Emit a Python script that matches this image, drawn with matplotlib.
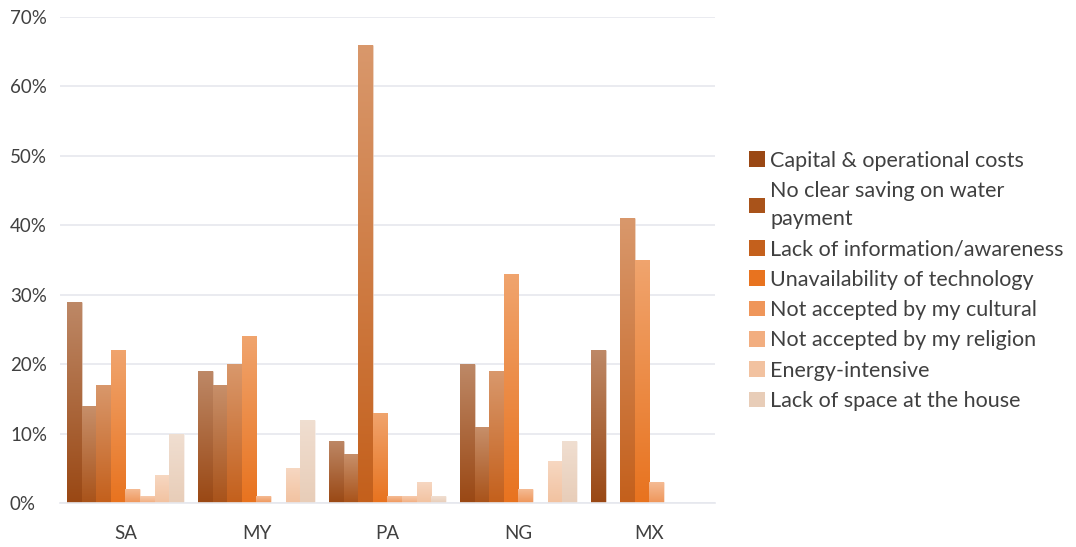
import matplotlib

matplotlib.use("Agg")
import matplotlib.pyplot as plt  # noqa: E402
import numpy as np  # noqa: E402
from matplotlib.colors import to_rgb  # noqa: E402
from matplotlib.patches import Patch  # noqa: E402
from matplotlib.ticker import PercentFormatter  # noqa: E402

countries = ["SA", "MY", "PA", "NG", "MX"]
reasons = [
    "Capital & operational costs",
    "No clear saving on water\npayment",
    "Lack of information/awareness",
    "Unavailability of technology",
    "Not accepted by my cultural",
    "Not accepted by my religion",
    "Energy-intensive",
    "Lack of space at the house",
]
# share of respondents (%) per reason, one list per reason, in country order
capital_costs = [29, 19, 9, 20, 22]
no_saving = [14, 17, 7, 11, 0]
lack_info = [17, 20, 66, 19, 41]
unavailable = [22, 24, 13, 33, 35]
cultural = [2, 1, 1, 2, 3]
religion = [1, 0, 1, 0, 0]
energy = [4, 5, 3, 6, 0]
no_space = [10, 12, 1, 9, 0]
series = [capital_costs, no_saving, lack_info, unavailable,
          cultural, religion, energy, no_space]

colors = ["#9A4814", "#A9531A", "#C4601C", "#E8731F",
          "#EF965A", "#F2AE80", "#F2C2A0", "#E8CDB8"]

plt.rcParams["font.family"] = ["Lato", "DejaVu Sans"]

fig = plt.figure(figsize=(10.76, 5.47), dpi=100)
ax = fig.add_axes([60 / 1076, 1 - 503 / 547, 655 / 1076, 486 / 547])

x = np.arange(len(countries))
n = len(series)
width = 0.893 / n


def gradient_fill(bar, color):
    h = bar.get_height()
    if h <= 0:
        return
    base = np.array(to_rgb(color))
    top = base + (1 - base) * 0.35
    t = np.linspace(0, 1, 64)[:, None, None]
    img = base * (1 - t) + top * t
    x0 = bar.get_x()
    im = ax.imshow(img, extent=(x0, x0 + bar.get_width(), 0, h), origin="lower",
                   aspect="auto", zorder=2.5, interpolation="bilinear")
    im.set_clip_path(bar)


for i, (vals, col) in enumerate(zip(series, colors)):
    pos = x - 0.893 / 2 + width * (i + 0.5)
    bars = ax.bar(pos, np.array(vals) / 100, width, color=col,
                  edgecolor=(1, 1, 1, 0.45), linewidth=0.8, zorder=2)
    for b in bars:
        gradient_fill(b, col)

ax.set_xlim(-0.5, len(countries) - 0.5)
ax.set_ylim(0, 0.70)
ax.set_yticks(np.arange(0, 0.71, 0.10))
ax.yaxis.set_major_formatter(PercentFormatter(1.0, decimals=0))
ax.set_xticks(x)
ax.set_xticklabels(countries)
ax.grid(axis="y", color="#E6E8EE", linewidth=1.2, zorder=0)
ax.set_axisbelow(True)
for side in ["top", "right", "left"]:
    ax.spines[side].set_visible(False)
ax.spines["bottom"].set_color("#E6E8EE")
ax.spines["bottom"].set_linewidth(1.2)
ax.tick_params(axis="both", length=0, labelsize=13.5, labelcolor="#404040")
ax.tick_params(axis="y", pad=36)
ax.tick_params(axis="x", pad=16)
for lbl in ax.get_yticklabels():
    lbl.set_horizontalalignment("left")

handles = [Patch(facecolor=c, edgecolor="none") for c in colors]
leg = ax.legend(handles, reasons, loc="center left", bbox_to_anchor=(1.038, 0.457),
                frameon=False, fontsize=15.5, labelcolor="#404040",
                handlelength=0.75, handleheight=0.75, handletextpad=0.25,
                labelspacing=0.48, borderaxespad=0)
for txt in leg.get_texts():
    txt.set_linespacing(1.5)

fig.savefig("out.png", dpi=100)
